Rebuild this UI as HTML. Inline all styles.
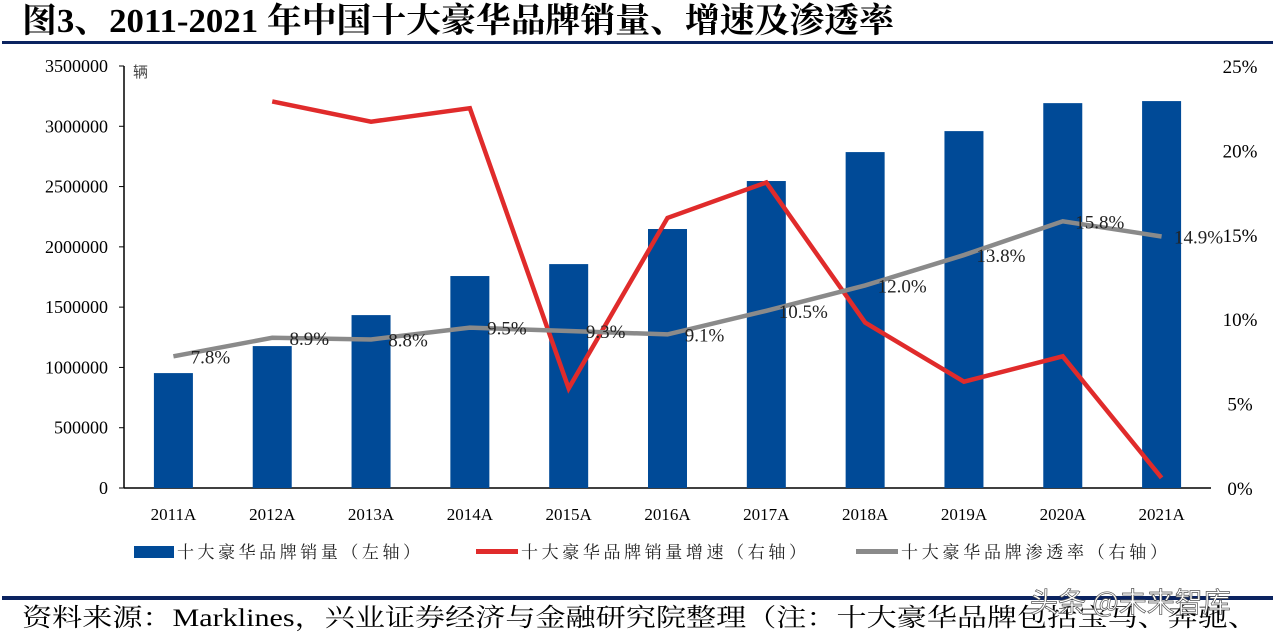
<!DOCTYPE html>
<html><head><meta charset="utf-8"><style>
body{margin:0;width:1273px;height:634px;background:#fff;overflow:hidden;font-family:"Liberation Serif","Noto Serif CJK SC",serif;}
</style></head><body>
<svg width="1273" height="634" xmlns="http://www.w3.org/2000/svg">
<text x="22" y="32" font-size="34" font-weight="bold" font-family="Liberation Serif, Noto Serif CJK SC, serif" textLength="872" lengthAdjust="spacingAndGlyphs">图3、2011-2021 年中国十大豪华品牌销量、增速及渗透率</text>
<rect x="2" y="41" width="1271" height="3" fill="#0b2360"/>
<text x="133" y="77" font-size="15" fill="#444" font-family="Noto Sans CJK SC, sans-serif">辆</text>
<g id="axes"></g><g id="bars"></g><g id="lines"></g>
<g font-size="17" font-family="Liberation Serif, Noto Serif CJK SC, serif" fill="#222">
<rect x="134" y="546" width="40" height="12" fill="#004a97"/>
<text x="177" y="558" textLength="243">十大豪华品牌销量（左轴）</text>
<rect x="476" y="549" width="42" height="5" fill="#e02b2b"/>
<text x="521" y="558" textLength="285">十大豪华品牌销量增速（右轴）</text>
<rect x="856" y="549" width="42" height="5" fill="#8a8a8a"/>
<text x="901" y="558" textLength="266">十大豪华品牌渗透率（右轴）</text>
</g>
<rect x="2" y="596" width="1271" height="4" fill="#0b2360"/>
<text x="22" y="626" font-size="25" font-family="Liberation Serif, Noto Serif CJK SC, serif" textLength="1236" lengthAdjust="spacingAndGlyphs">资料来源：Marklines，兴业证券经济与金融研究院整理（注：十大豪华品牌包括宝马、奔驰、</text>
<text x="1030" y="612" font-size="28" fill="#fff" stroke="#555" stroke-width="0.7" font-family="Noto Sans CJK SC, sans-serif">头条 @未来智库</text>
</svg>
<script>
const categories=["2011A","2012A","2013A","2014A","2015A","2016A","2017A","2018A","2019A","2020A","2021A"];
const sales=[953000,1177000,1434000,1758000,1857000,2148000,2546000,2786000,2960000,3192000,3209000];
const growth=[null,22.9,21.7,22.5,5.9,16.0,18.1,9.8,6.3,7.8,0.6];
const penetration=[7.8,8.9,8.8,9.5,9.3,9.1,10.5,12.0,13.8,15.8,14.9];
const leftTicks=[0,500000,1000000,1500000,2000000,2500000,3000000,3500000];
const rightTicks=[0,5,10,15,20,25];
const NS="http://www.w3.org/2000/svg";
const X0=124,X1=1211,Y0=488,Y1=66;
const step=(X1-X0)/categories.length;
const xc=i=>X0+step*(i+0.5);
const yl=v=>Y0-(v/3500000)*(Y0-Y1);
const yr=v=>Y0-(v/25)*(Y0-Y1);
function mk(tag,attrs,parent,text){const e=document.createElementNS(NS,tag);for(const k in attrs)e.setAttribute(k,attrs[k]);if(text!==undefined)e.textContent=text;parent.appendChild(e);return e;}
const ax=document.getElementById('axes'),bg=document.getElementById('bars'),lg=document.getElementById('lines');
let e=mk('line',{x1:X0,y1:Y1,x2:X0,y2:Y0,stroke:'#000','stroke-width':1.5},ax);


e=mk('line',{x1:X0,y1:Y0,x2:X1,y2:Y0,stroke:'#000','stroke-width':1.5},ax);


leftTicks.forEach(t=>{
 mk('line',{x1:X0-5,y1:yl(t),x2:X0,y2:yl(t),stroke:'#000'},ax);
 const tx=mk('text',{x:108,y:yl(t)+6,'text-anchor':'end','font-size':18,'font-family':'Liberation Serif, serif'},ax,String(t));
 
 
});
rightTicks.forEach(t=>{
 const tx=mk('text',{x:1240,y:yr(t)+7,'text-anchor':'middle','font-size':19,'font-family':'Liberation Serif, serif'},ax,t+'%');
 
 
});
categories.forEach((c,i)=>{
 const tx=mk('text',{x:xc(i),y:520,'text-anchor':'middle','font-size':17,'font-family':'Liberation Serif, serif'},ax,c);
 
 
 const b=mk('rect',{x:xc(i)-19.5,y:yl(sales[i]),width:39,height:Y0-yl(sales[i]),fill:'#004a97'},bg);
 
 
});
let pts=[];growth.forEach((v,i)=>{if(v!==null)pts.push(xc(i)+','+yr(v));});
e=mk('polyline',{points:pts.join(' '),fill:'none',stroke:'#e02b2b','stroke-width':4.5,'stroke-linejoin':'miter'},lg);


pts=penetration.map((v,i)=>xc(i)+','+yr(v));
e=mk('polyline',{points:pts.join(' '),fill:'none',stroke:'#8a8a8a','stroke-width':4.5},lg);


penetration.forEach((v,i)=>{
 const tx=mk('text',{x:xc(i)+37,y:yr(v)+7,'text-anchor':'middle','font-size':19,'font-family':'Liberation Serif, serif',fill:'#222'},lg,v.toFixed(1)+'%');
 
 
});
</script>
</body></html>
